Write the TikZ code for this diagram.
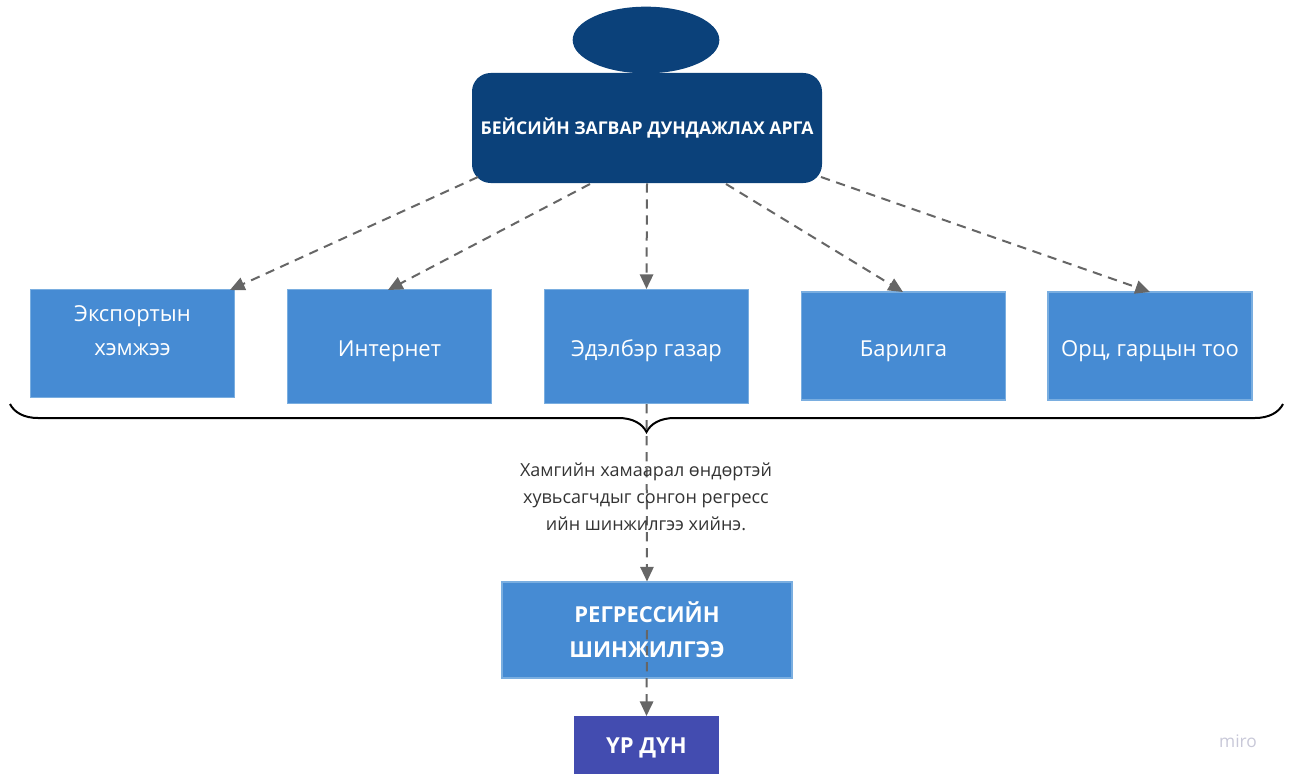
\documentclass[tikz,border=0pt]{standalone}
\usepackage{fontspec}
\setmainfont{Open Sans}
\usetikzlibrary{arrows.meta,decorations.pathreplacing,shapes.geometric}
\definecolor{darkblue}{HTML}{0B417A}
\definecolor{boxblue}{HTML}{468BD3}
\definecolor{boxedge}{HTML}{7AAEE0}
\definecolor{resblue}{HTML}{434CB0}
\definecolor{arrgray}{HTML}{666666}
\definecolor{notegray}{HTML}{333333}
\definecolor{mirogray}{HTML}{C8C8D8}
\tikzset{
  varbox/.style={rectangle, fill=boxblue, draw=boxedge, line width=0.8pt, minimum width=153pt, inner sep=0pt},
  varlabel/.style={text=white, font=\fontsize{16.5}{25}\selectfont, align=center, inner sep=0pt, anchor=base},
  dasharrow/.style={draw=arrgray, line width=1.5pt, dash pattern=on 7pt off 5pt, -{Triangle[length=11pt,width=10pt,fill=arrgray]}},
}
\begin{document}
\begin{tikzpicture}[x=0.75pt,y=-0.75pt]
\useasboundingbox (0,0) rectangle (1292,774);
% top ellipse and main box
\node (cap) [ellipse, fill=darkblue, minimum width=110pt, minimum height=50pt, inner sep=0pt] at (646,40) {};
\node (main) [rectangle, rounded corners=14pt, fill=darkblue, minimum width=262.5pt, minimum height=82.5pt, text=white, font=\bfseries\fontsize{13.2}{16}\selectfont, inner sep=0pt] at (647,128) {БЕЙСИЙН ЗАГВАР ДУНДАЖЛАХ АРГА};
% variable boxes
\node (b1) [varbox, minimum height=81pt] at (132.5,343.5) {};
\node (b2) [varbox, minimum height=85.5pt] at (389.5,346.5) {};
\node (b3) [varbox, minimum height=85.5pt] at (646.5,346.5) {};
\node (b4) [varbox, minimum height=81pt] at (903.5,346) {};
\node (b5) [varbox, minimum height=81pt] at (1150,346) {};
\node (t1a) [varlabel] at (132.5,321) {Экспортын};
\node (t1b) [varlabel] at (132.5,355) {хэмжээ};
\node (t2) [varlabel] at (389.5,356) {Интернет};
\node (t3) [varlabel] at (646.5,356) {Эдэлбэр газар};
\node (t4) [varlabel] at (903.5,356) {Барилга};
\node (t5) [varlabel] at (1150,356) {Орц, гарцын тоо};
% arrow start coordinates on main box
\coordinate (s1) at (478,177);
\coordinate (s2) at (590,184);
\coordinate (s4) at (726,184);
\coordinate (s5) at (821,177);
\coordinate (e1) at (230,290);
\coordinate (e2) at (388,290);
\coordinate (e4) at (903,292);
\coordinate (e5) at (1150,292);
\draw[dasharrow] (s1) -- (e1);
\draw[dasharrow] (s2) -- (e2);
\draw[dasharrow] (main.south) -- (b3.north);
\draw[dasharrow] (s4) -- (e4);
\draw[dasharrow] (s5) -- (e5);
% brace
\coordinate (brL) at (10,404);
\coordinate (brR) at (1283,404);
\draw[line width=1.5pt, decorate, decoration={brace, mirror, amplitude=21pt, aspect=0.5}] (brL) -- (brR);
% regression box and result
\node (reg) [rectangle, fill=boxblue, draw=boxedge, line width=0.8pt, minimum width=217.5pt, minimum height=72pt, text=white, font=\bfseries\fontsize{16.5}{26}\selectfont, align=center, inner sep=0pt] at (647,630) {РЕГРЕССИЙН\\ШИНЖИЛГЭЭ};
\node (res) [rectangle, fill=resblue, minimum width=109pt, minimum height=50pt, anchor=north, inner sep=0pt] at (646.5,716) {};
\node (rest) [text=white, font=\bfseries\fontsize{16.5}{20}\selectfont, inner sep=0pt] at (646.5,748) {ҮР ДҮН};
\draw[dasharrow] (b3.south) -- (reg.north);
\draw[dasharrow] (reg.center) -- (res.north);
% note
\node (note) [text=notegray, font=\fontsize{13.5}{20.25}\selectfont, align=center] at (646,497) {Хамгийн хамаарал өндөртэй\\хувьсагчдыг сонгон регресс\\ийн шинжилгээ хийнэ.};
% watermark
\node (miro) [text=mirogray, font=\fontsize{13}{15}\selectfont] at (1238,741) {miro};
\end{tikzpicture}
\end{document}
